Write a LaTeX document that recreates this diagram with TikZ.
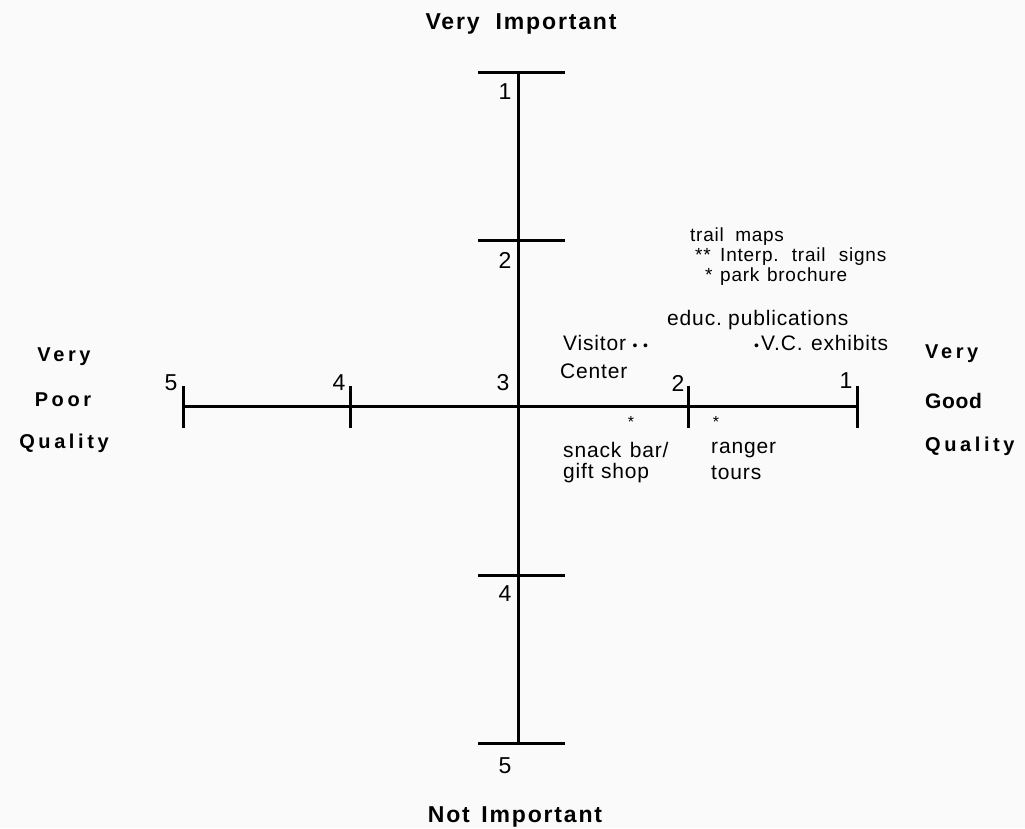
\documentclass[tikz,border=0pt]{standalone}
\usepackage{fontspec}
\setmainfont{Liberation Sans}
\newfontfamily\itemfont[LetterSpace=4]{Liberation Sans}
\newfontfamily\titlefont[LetterSpace=8]{Liberation Sans Bold}
\newfontfamily\widefont[LetterSpace=18]{Liberation Sans Bold}
\newfontfamily\plainbold[LetterSpace=3]{Liberation Sans Bold}
\begin{document}
\begin{tikzpicture}[x=1pt,y=-1pt,
  axis/.style={line width=3pt},
  tickmark/.style={line width=3pt},
  num/.style={font=\fontsize{23}{23}\selectfont, inner sep=0pt},
  title/.style={font=\titlefont\fontsize{23}{23}\selectfont, inner sep=0pt},
  side/.style={font=\widefont\fontsize{20}{20}\selectfont, inner sep=0pt},
  sidegood/.style={font=\plainbold\fontsize{21}{21}\selectfont, inner sep=0pt},
  item/.style={font=\itemfont\fontsize{21}{21}\selectfont, inner sep=0pt, anchor=west},
  smallitem/.style={font=\itemfont\fontsize{19}{19}\selectfont, inner sep=0pt, anchor=west},
  star/.style={font=\fontsize{16}{16}\selectfont, inner sep=0pt}]
\useasboundingbox[fill=gray!4] (0,0) rectangle (1025,828);
% axis coordinates
\coordinate (vtop) at (518,72);
\coordinate (vbot) at (518,743);
\coordinate (hleft) at (183,406);
\coordinate (hright) at (857,406);
% axes
\draw[axis] (vtop) -- (vbot);
\draw[axis] (hleft) -- (hright);
% vertical ticks (horizontal bars)
\foreach \y in {72,240,575,743}{
  \draw[tickmark] (478,\y) -- (565,\y);
}
\node[num] (v1) at (505,92) {1};
\node[num] (v2) at (505,260) {2};
\node[num] (v4) at (505,594) {4};
\node[num] (v5) at (505,766) {5};
% horizontal ticks
\foreach \x in {183,350,688,857}{
  \draw[tickmark] (\x,386) -- (\x,428);
}
\node[num] (h5) at (171,383) {5};
\node[num] (h4) at (339,383) {4};
\node[num] (h3) at (503,383) {3};
\node[num] (h2) at (678,383) {2};
\node[num] (h1) at (846,381) {1};
% titles
\node[title] (ti) at (521,24) {Very\hspace{0.7em}Important};
\node[title] (tn) at (515,817) {Not\hspace{0.5em}Important};
\node[side] (lv) at (64,357) {Very};
\node[side] (lp) at (63,400) {Poor};
\node[side] (lq) at (64,443) {Quality};
\node[side, anchor=west] (rv) at (925,354) {Very};
\node[sidegood, anchor=west] (rg) at (925,401) {Good};
\node[side, anchor=west] (rq) at (925,446) {Quality};
% items
\node[smallitem] (tm) at (690,237) {trail\hspace{0.6em}maps};
\node[smallitem] (ts) at (695,257) {**\hspace{0.5em}Interp.\hspace{0.7em}trail\hspace{0.7em}signs};
\node[smallitem] (pb) at (705,277) {*\hspace{0.4em}park\hspace{0.4em}brochure};
\node[item] (ep) at (667,320) {educ.\hspace{0.3em}publications};
\node[item] (vc) at (563,343) {Visitor\hspace{0.3em}{\fontsize{14}{14}\selectfont •\hspace{0.4em}•}};
\node[item] (ce) at (560,371) {Center};
\node[item] (ve) at (754,343) {{\fontsize{14}{14}\selectfont •}\hspace{0.1em}V.C.\hspace{0.4em}exhibits};
\node[star] (s1) at (631,422) {*};
\node[star] (s2) at (716,422) {*};
\node[item] (sb) at (563,450) {snack\hspace{0.4em}bar/};
\node[item] (gs) at (563,473) {gift\hspace{0.35em}shop};
\node[item] (rt) at (711,450) {ranger};
\node[item] (to) at (711,473) {tours};
\end{tikzpicture}
\end{document}
